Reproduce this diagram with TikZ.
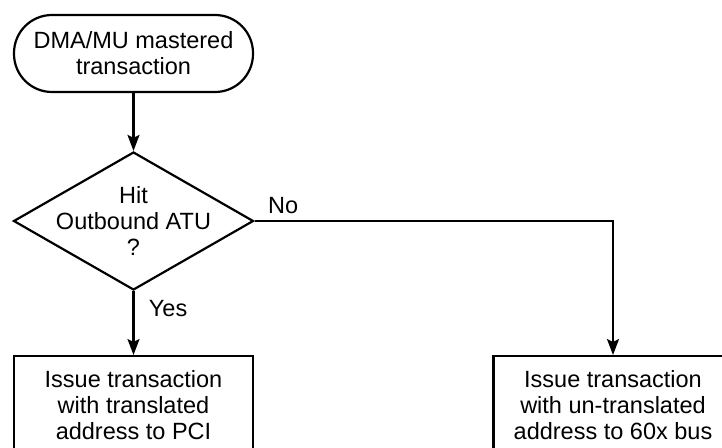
\documentclass[tikz,border=0pt]{standalone}
\usepackage{fontspec}
\setmainfont{Liberation Sans}
\usepackage{tikz}
\usetikzlibrary{
  shapes.geometric,
  arrows.meta,
  positioning
}

\begin{document}
\begin{tikzpicture}[
    x=1pt, y=-1pt,
    every node/.style={
      font=\fontsize{23.5}{26}\selectfont,
      align=center
    },
    terminal/.style={
      rectangle,
      draw=black,
      line width=2.2pt,
      rounded corners=38pt,
      minimum width=239pt,
      minimum height=77pt
    },
    decision/.style={
      diamond,
      draw=black,
      line width=2.2pt,
      inner sep=0pt,
      minimum width=240pt,
      minimum height=138pt
    },
    process/.style={
      rectangle,
      draw=black,
      line width=2.2pt,
      minimum width=239pt,
      minimum height=98pt
    },
    arrow/.style={
      -{Stealth[length=16pt, width=12pt, inset=3pt]},
      line width=2.2pt
    }
  ]
    % Canvas
    \useasboundingbox (0,0) rectangle (722,447);
    \clip (0,0) rectangle (722,447);

    % Flow nodes
    \node[terminal] (start) at (133.5, 53.5) {DMA/MU mastered\\transaction};
    \node[decision] (hit) at (133.5, 221) {};
    \node (hittext) at (hit.center) {Hit\\Outbound ATU\\?};
    \node[process, anchor=north] (pci) at (133.5, 355) {Issue transaction\\with translated\\address to PCI};
    \node[process, anchor=north] (bus) at (613, 355) {Issue transaction\\with un-translated\\address to 60x bus};

    % Connectors
    \draw[arrow] (start.south) -- (hit.north);
    \draw[arrow] (hit.south) -- node[at start, anchor=base west, xshift=11pt, yshift=-25pt] {Yes} (pci.north);
    \draw[arrow] (hit.east) -| node[at start, anchor=base west, xshift=9pt, yshift=8pt] {No} (bus.north);
  \end{tikzpicture}
\end{document}
